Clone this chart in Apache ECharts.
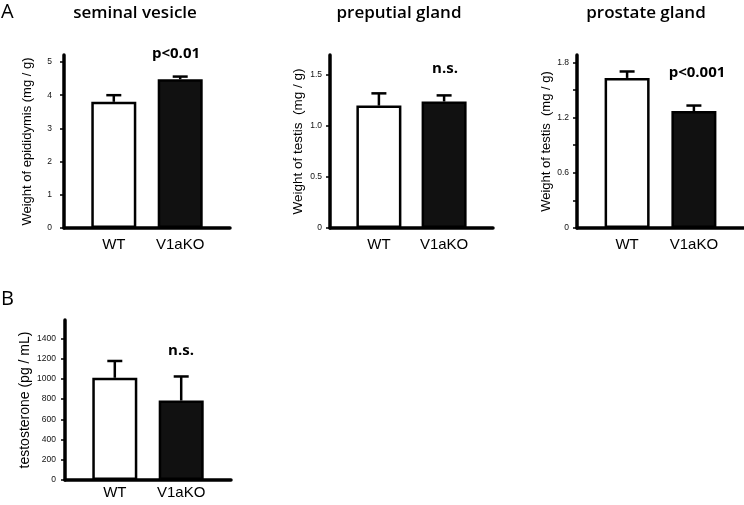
<!DOCTYPE html>
<html>
<head>
<meta charset="utf-8">
<script src="https://cdn.jsdelivr.net/npm/echarts@6/dist/echarts.min.js"></script>
<style>html,body{margin:0;padding:0;background:#fff}#c{width:744px;height:505px}</style>
</head>
<body>
<div id="c"></div>
<script>
// ---- data ----
const categories = ['WT', 'V1aKO'];
const panelTitles = ['seminal vesicle', 'preputial gland', 'prostate gland'];
const yNames = ['Weight of epididymis (mg / g)', 'Weight of testis  (mg / g)', 'Weight of testis  (mg / g)', 'testosterone (pg / mL)'];
const seminalMean = [3.8, 4.48];
const seminalErr = [0.2, 0.08];
const preputialMean = [1.2, 1.24];
const preputialErr = [0.12, 0.06];
const prostateMean = [1.63, 1.27];
const prostateErr = [0.07, 0.06];
const testoMean = [1010, 785];
const testoErr = [166, 238];
const seminalTicks = [0, 1, 2, 3, 4, 5];
const preputialTicks = [0, 0.5, 1.0, 1.5];
const prostateTicks = [0, 0.3, 0.6, 0.9, 1.2, 1.5, 1.8];
const prostateTickLabels = [0, 0.6, 1.2, 1.8];
const testoTicks = [0, 200, 400, 600, 800, 1000, 1200, 1400];
const significance = ['p<0.01', 'n.s.', 'p<0.001', 'n.s.'];

// ---- layout ----
const catPos = [3, 7]; // position of the two groups on a 0..10 x scale
const panels = [
  {mean: seminalMean, err: seminalErr, ticks: seminalTicks, labels: seminalTicks, fmt: v => String(v),
   left: 64, top: 55, width: 166, height: 173, yMax: 5.21, nameGap: 30, labelMargin: 12, catMargin: 9, nameSize: 13},
  {mean: preputialMean, err: preputialErr, ticks: preputialTicks, labels: preputialTicks, fmt: v => v === 0 ? '0' : v.toFixed(1),
   left: 330, top: 55, width: 163, height: 173, yMax: 1.696, nameGap: 25, labelMargin: 8, catMargin: 9, nameSize: 13.5},
  {mean: prostateMean, err: prostateErr, ticks: prostateTicks, labels: prostateTickLabels, fmt: v => v === 0 ? '0' : v.toFixed(1),
   left: 577, top: 55, width: 169, height: 173, yMax: 1.879, nameGap: 21, labelMargin: 8, catMargin: 9, nameSize: 13},
  {mean: testoMean, err: testoErr, ticks: testoTicks, labels: testoTicks, fmt: v => String(v),
   left: 65, top: 320, width: 166, height: 160, yMax: 1581, nameGap: 33, labelMargin: 9, catMargin: 5, nameSize: 14}
];
const sigPos = [[176, 54], [445, 69], [697, 73], [181, 351]];

const FONT = '"Liberation Sans", Arial, sans-serif';
const grids = [], xAxes = [], yAxes = [], series = [];
panels.forEach((p, i) => {
  grids.push({left: p.left, top: p.top, width: p.width, height: p.height, containLabel: false});
  xAxes.push({
    type: 'value', gridIndex: i, min: 0, max: 10,
    axisLine: {show: true, lineStyle: {color: '#000', width: 3.5}},
    axisTick: {show: false}, splitLine: {show: false},
    axisLabel: {customValues: catPos, margin: p.catMargin, fontFamily: FONT, fontSize: 15, color: '#000',
      formatter: v => categories[catPos.indexOf(v)] || ''}
  });
  yAxes.push({
    type: 'value', gridIndex: i, min: 0, max: p.yMax,
    name: yNames[i], nameLocation: 'middle', nameGap: p.nameGap,
    nameTextStyle: {fontFamily: FONT, fontSize: p.nameSize, color: '#000'},
    axisLine: {show: true, lineStyle: {color: '#000', width: 3.5}},
    axisTick: {show: true, customValues: p.ticks, length: 4, lineStyle: {color: '#000', width: 1.5}},
    splitLine: {show: false},
    axisLabel: {customValues: p.labels, margin: p.labelMargin, fontFamily: FONT, fontSize: 8.5, color: '#111', formatter: p.fmt}
  });
  const barData = p.mean.map((m, k) => ({
    value: [catPos[k], m],
    itemStyle: {color: k === 0 ? '#fff' : '#111', borderColor: '#000', borderWidth: 2.5}
  }));
  series.push({type: 'bar', xAxisIndex: i, yAxisIndex: i, barWidth: 45, data: barData, z: 2, silent: true});
  series.push({
    type: 'custom', xAxisIndex: i, yAxisIndex: i, z: 3, silent: true,
    data: p.mean.map((m, k) => [catPos[k], m, p.err[k]]),
    renderItem: (params, api) => {
      const x = api.value(0), m = api.value(1), e = api.value(2);
      const a = api.coord([x, m]);
      const b = api.coord([x, m + e]);
      const st = {stroke: '#000', lineWidth: 2.5};
      return {type: 'group', children: [
        {type: 'line', shape: {x1: a[0], y1: a[1], x2: b[0], y2: b[1]}, style: st},
        {type: 'line', shape: {x1: b[0] - 7.5, y1: b[1], x2: b[0] + 7.5, y2: b[1]}, style: st}
      ]};
    }
  });
});

const titleCenters = [135, 399, 646];
const TFONT = '"Open Sans", Lato, sans-serif';
const graphics = [];
panelTitles.forEach((t, i) => {
  graphics.push({type: 'text', x: titleCenters[i], y: 13, style: {text: t, font: '600 17px ' + TFONT, fill: '#000', textAlign: 'center', textVerticalAlign: 'middle'}});
});
graphics.push({type: 'text', x: 1, y: 12, style: {text: 'A', font: '20px ' + TFONT, fill: '#000', textVerticalAlign: 'middle'}});
graphics.push({type: 'text', x: 1, y: 299, style: {text: 'B', font: '20px ' + TFONT, fill: '#000', textVerticalAlign: 'middle'}});
significance.forEach((s, i) => {
  graphics.push({type: 'text', x: sigPos[i][0], y: sigPos[i][1], style: {text: s, font: 'bold 15px ' + TFONT, fill: '#000', textAlign: 'center', textVerticalAlign: 'middle'}});
});

const chart = echarts.init(document.getElementById('c'), null, {renderer: 'canvas'});
chart.setOption({
  animation: false,
  grid: grids, xAxis: xAxes, yAxis: yAxes, series: series,
  graphic: graphics
});
</script>
</body>
</html>
